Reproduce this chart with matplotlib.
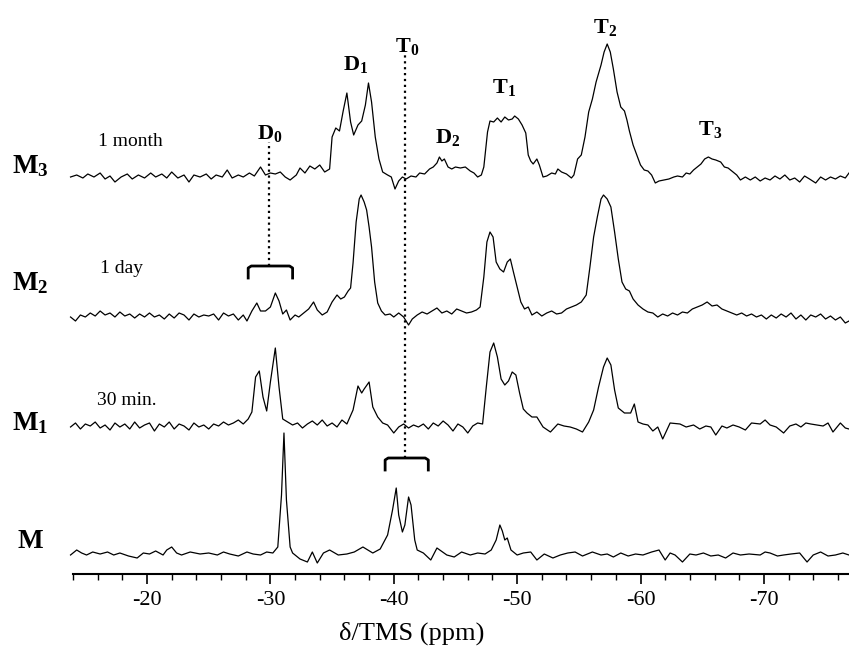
import numpy as np
import matplotlib
matplotlib.use('Agg')
import matplotlib.pyplot as plt

plt.rcParams['font.family'] = 'Liberation Serif'
plt.rcParams['mathtext.fontset'] = 'custom'
plt.rcParams['mathtext.rm'] = 'Liberation Serif'
plt.rcParams['mathtext.bf'] = 'Liberation Serif:bold'
plt.rcParams['mathtext.it'] = 'Liberation Serif:italic'
plt.rcParams['axes.unicode_minus'] = False

# traced spectra: chemical shift (ppm) and intensity above each baseline
m3_ppm = [-13.8, -14.3, -14.8, -15.2, -15.7, -16.2, -16.6, -17.0, -17.4, -17.9, -18.4, -18.8, -19.3, -19.8,
          -20.3, -20.7, -21.2, -21.6, -22.0, -22.5, -23.0, -23.4, -23.8, -24.3, -24.8, -25.2, -25.6, -26.1,
          -26.5, -26.9, -27.4, -27.8, -28.3, -28.7, -29.2, -29.6, -30.0, -30.4, -30.8, -31.2, -31.6, -32.1,
          -32.4, -32.8, -33.2, -33.6, -34.0, -34.4, -34.8, -35.0, -35.3, -35.6, -35.9, -36.2, -36.5, -36.75,
          -37.1, -37.4, -37.7, -37.95, -38.2, -38.5, -38.8, -39.1, -39.5, -39.8, -40.1, -40.4, -40.7, -41.0,
          -41.4, -41.8, -42.1, -42.5, -42.9, -43.2, -43.5, -43.7, -43.9, -44.1, -44.4, -44.7, -45.0, -45.4,
          -45.8, -46.2, -46.5, -46.8, -47.1, -47.3, -47.6, -47.8, -48.1, -48.4, -48.7, -49.0, -49.3, -49.6,
          -49.8, -50.1, -50.4, -50.7, -50.9, -51.1, -51.3, -51.6, -51.8, -52.1, -52.4, -52.8, -53.1, -53.3,
          -53.6, -54.0, -54.4, -54.6, -54.9, -55.2, -55.5, -55.8, -56.1, -56.4, -56.8, -57.05, -57.3, -57.55,
          -57.8, -58.1, -58.4, -58.7, -58.9, -59.1, -59.4, -59.7, -60.0, -60.3, -60.6, -60.9, -61.2, -61.5,
          -61.9, -62.3, -62.7, -63.0, -63.4, -63.7, -64.0, -64.3, -64.6, -64.9, -65.2, -65.5, -65.8, -66.1,
          -66.5, -66.8, -67.1, -67.5, -67.8, -68.1, -68.5, -68.9, -69.3, -69.7, -70.1, -70.5, -70.9, -71.3,
          -71.7, -72.1, -72.5, -72.9, -73.3, -73.7, -74.2, -74.6, -75.0, -75.4, -75.8, -76.2, -76.6, -76.9]
m3_int = [0, 2, -1, 3, 0, 4, -2, 1, -5, 0, 3, -2, 2, -1,
          4, 0, 3, -1, 5, -1, 2, -5, 2, 0, 3, -2, 2, 0,
          7, -1, 2, 0, 4, 1, 10, 2, 4, 3, 5, 0, -3, 2,
          9, 4, 11, 8, 12, 5, 8, 40, 49, 46, 66, 84, 55, 42,
          52, 56, 72, 94, 75, 40, 18, 5, 2, 0, -12, -4, 0, -2,
          1, 0, 4, 3, 8, 10, 14, 20, 16, 18, 10, 8, 10, 9,
          10, 6, 4, 0, 2, 10, 45, 56, 55, 59, 55, 60, 57, 58,
          61, 58, 52, 44, 22, 16, 13, 18, 12, 0, 1, 4, 3, 8,
          5, 3, -1, 2, 18, 22, 40, 65, 78, 95, 112, 125, 133, 125,
          108, 85, 70, 66, 57, 46, 32, 22, 12, 7, 6, 2, -6, -4,
          -3, -2, 0, 1, 0, 4, 3, 7, 10, 13, 18, 20, 18, 17,
          15, 10, 9, 5, 2, -3, 0, -3, 0, -4, -1, -3, 1, -2,
          2, -3, -1, -5, 1, -2, -6, 0, -3, 0, -2, 1, -1, 4]

m2_ppm = [-13.8, -14.2, -14.6, -15.0, -15.4, -15.8, -16.2, -16.6, -17.0, -17.4, -17.8, -18.2, -18.6, -19.0,
          -19.4, -19.8, -20.2, -20.6, -21.0, -21.4, -21.8, -22.2, -22.6, -23.0, -23.4, -23.8, -24.2, -24.6,
          -25.0, -25.4, -25.8, -26.2, -26.6, -27.0, -27.4, -27.8, -28.1, -28.5, -28.9, -29.2, -29.6, -30.0,
          -30.4, -30.7, -31.0, -31.3, -31.6, -32.0, -32.3, -32.7, -33.1, -33.5, -33.8, -34.2, -34.6, -35.0,
          -35.4, -35.7, -36.0, -36.3, -36.5, -36.7, -36.95, -37.2, -37.35, -37.6, -37.8, -38.0, -38.2, -38.45,
          -38.7, -39.0, -39.3, -39.7, -40.0, -40.4, -40.8, -41.2, -41.5, -41.9, -42.3, -42.7, -43.1, -43.5,
          -43.9, -44.3, -44.7, -45.1, -45.5, -45.9, -46.3, -46.7, -47.0, -47.3, -47.55, -47.8, -48.05, -48.3,
          -48.6, -48.9, -49.2, -49.45, -49.7, -50.0, -50.3, -50.6, -50.9, -51.2, -51.6, -52.0, -52.4, -52.8,
          -53.2, -53.6, -54.0, -54.4, -54.8, -55.2, -55.6, -55.9, -56.2, -56.5, -56.8, -57.0, -57.3, -57.6,
          -57.9, -58.2, -58.5, -58.8, -59.1, -59.4, -59.8, -60.2, -60.6, -61.0, -61.4, -61.8, -62.2, -62.6,
          -63.0, -63.4, -63.8, -64.2, -64.6, -65.0, -65.4, -65.8, -66.2, -66.6, -67.0, -67.4, -67.8, -68.2,
          -68.6, -69.0, -69.4, -69.8, -70.2, -70.6, -71.0, -71.4, -71.8, -72.2, -72.6, -73.0, -73.4, -73.8,
          -74.2, -74.6, -75.0, -75.4, -75.8, -76.2, -76.6, -76.9]
m2_int = [0, -4, 2, 0, 4, 1, 6, 2, 4, 0, 5, 1, 3, -1,
          3, 0, 4, 0, 2, -2, 3, -1, 4, 2, -3, 3, 0, 2,
          1, 3, -3, 4, 1, 3, -3, 2, -4, 6, 14, 6, 6, 10,
          24, 16, 3, 7, -3, 2, 0, 4, 8, 15, 7, 2, 5, 15,
          22, 18, 20, 26, 29, 54, 95, 118, 122, 115, 107, 90, 70, 35,
          14, 6, 2, 3, 0, 4, 0, -8, -2, 2, 5, 3, 6, 9,
          4, 6, 3, 8, 6, 4, 5, 7, 10, 40, 75, 85, 80, 55,
          48, 45, 55, 58, 45, 30, 15, 8, 10, 2, 5, 1, 4, 6,
          3, 4, 8, 10, 12, 15, 22, 50, 80, 100, 118, 122, 118, 110,
          85, 58, 35, 28, 26, 18, 12, 8, 5, 4, 0, 3, 1, 4,
          2, 5, 4, 8, 10, 12, 15, 11, 12, 8, 6, 4, 2, 4,
          1, 3, 0, 2, -2, 2, -1, 3, 0, 4, -2, 2, -3, 2,
          0, 3, -2, 1, -3, 0, -6, -4]

m1_ppm = [-13.8, -14.2, -14.6, -15.0, -15.4, -15.8, -16.2, -16.6, -17.0, -17.4, -17.8, -18.2, -18.6, -19.0,
          -19.4, -19.8, -20.2, -20.6, -21.0, -21.4, -21.8, -22.2, -22.6, -23.0, -23.4, -23.8, -24.2, -24.6,
          -25.0, -25.4, -25.8, -26.2, -26.6, -27.0, -27.4, -27.8, -28.2, -28.5, -28.8, -29.1, -29.4, -29.7,
          -30.0, -30.4, -30.7, -31.0, -31.4, -31.8, -32.2, -32.6, -33.0, -33.4, -33.8, -34.2, -34.6, -35.0,
          -35.4, -35.8, -36.2, -36.7, -37.1, -37.4, -37.6, -38.0, -38.3, -38.7, -39.1, -39.5, -40.0, -40.4,
          -40.8, -41.2, -41.6, -42.0, -42.4, -42.8, -43.2, -43.6, -44.0, -44.4, -44.8, -45.2, -45.6, -46.0,
          -46.4, -46.8, -47.2, -47.5, -47.8, -48.1, -48.4, -48.7, -49.0, -49.3, -49.6, -49.9, -50.2, -50.5,
          -50.8, -51.2, -51.6, -52.1, -52.7, -53.3, -53.8, -54.3, -54.8, -55.3, -55.8, -56.2, -56.6, -57.0,
          -57.3, -57.6, -57.9, -58.2, -58.7, -59.2, -59.5, -59.8, -60.2, -60.6, -61.0, -61.4, -61.8, -62.4,
          -63.2, -63.7, -64.3, -64.8, -65.3, -65.7, -66.1, -66.6, -67.0, -67.5, -68.0, -68.5, -69.0, -69.7,
          -70.1, -70.5, -71.0, -71.6, -72.1, -72.6, -73.0, -73.4, -73.8, -74.3, -74.8, -75.2, -75.6, -76.2,
          -76.6, -76.9]
m1_int = [0, 4, -2, 3, 1, 5, -1, 2, -3, 4, 0, 3, -2, 5,
          -1, 2, 4, -4, 3, 0, 5, -2, 3, 1, -3, 4, 0, 2,
          -2, 3, 1, 5, 2, 4, 7, 3, 8, 15, 50, 56, 30, 16,
          45, 79, 40, 8, 5, 2, 4, -1, 3, 6, 2, 7, 1, 4,
          0, 7, 3, 17, 41, 34, 38, 45, 20, 10, 4, 2, -6, 0,
          3, -1, 2, 0, 3, -2, 4, 1, 6, 2, -4, 3, 0, -6,
          1, 4, 3, 40, 75, 84, 70, 48, 42, 46, 55, 52, 34, 18,
          14, 10, 10, 0, -5, 3, 1, 0, -2, -5, 5, 17, 40, 60,
          69, 62, 37, 19, 14, 14, 23, 5, 3, 2, -4, 0, -12, 4,
          3, 0, 2, -2, 1, 0, -8, 1, -1, 2, 0, -3, 4, 3,
          7, 2, 0, -6, 1, 3, 0, 4, 3, 2, 1, 4, -5, 4,
          -1, -2]

m_ppm = [-13.8, -14.3, -14.7, -15.1, -15.6, -16.2, -16.8, -17.3, -17.8, -18.5, -19.2, -19.7, -20.2, -20.7,
         -21.3, -21.6, -22.0, -22.4, -22.8, -23.5, -24.3, -25.0, -25.7, -26.2, -26.7, -27.4, -28.1, -28.6,
         -29.2, -29.7, -30.2, -30.6, -30.9, -31.1, -31.3, -31.6, -31.8, -32.4, -33.0, -33.4, -33.8, -34.3,
         -34.8, -35.5, -36.2, -36.8, -37.5, -38.3, -38.9, -39.5, -39.9, -40.2, -40.4, -40.7, -40.9, -41.2,
         -41.4, -41.7, -41.9, -42.4, -43.0, -43.5, -44.3, -44.9, -45.5, -46.2, -46.8, -47.4, -47.9, -48.3,
         -48.6, -48.8, -49.0, -49.2, -49.5, -50.0, -50.5, -51.1, -51.6, -52.2, -52.9, -53.5, -54.1, -54.7,
         -55.3, -56.1, -56.8, -57.3, -57.8, -58.4, -59.0, -59.6, -60.2, -60.9, -61.5, -62.0, -62.4, -62.8,
         -63.4, -64.0, -64.5, -65.1, -65.7, -66.3, -66.9, -67.5, -68.1, -68.8, -69.7, -70.1, -70.5, -71.1,
         -71.6, -72.2, -72.9, -73.5, -74.0, -74.6, -75.2, -75.8, -76.4, -76.9]
m_int = [0, 5, 2, 0, 3, 1, 3, 0, 2, -1, -3, 2, 1, 4,
         0, 5, 8, 2, 0, 3, 1, 2, 0, 3, 1, -1, 3, 1,
         0, 3, 2, 8, 60, 122, 55, 8, 2, -4, -7, 3, -8, 2,
         5, 0, 1, 3, 8, 2, 6, 20, 45, 67, 40, 23, 30, 58,
         50, 15, 5, 2, -5, 7, 0, -2, 3, 0, 2, 1, 5, 15,
         30, 24, 15, 17, 5, 0, 2, 3, -5, 1, -3, 0, 2, 3,
         -1, 3, 0, 1, -2, 2, -1, 1, 0, 3, 5, -5, 2, 0,
         -7, 1, 0, 2, -1, 0, -3, 2, 0, 1, 0, 3, 2, -1,
         0, 1, 2, -7, 0, 3, -1, 0, 2, 0]

fig = plt.figure(figsize=(8.49, 6.56), dpi=100)
ax = fig.add_axes([73 / 849, 82 / 656, 776 / 849, 574 / 656])
ax.set_xlim(-14, -76.9)
ax.set_ylim(0, 574)

for ppm, inten, base in [(m3_ppm, m3_int, 397), (m2_ppm, m2_int, 257),
                         (m1_ppm, m1_int, 147), (m_ppm, m_int, 19)]:
    ax.plot(ppm, np.array(inten) + base, color='k', lw=0.9, clip_on=False)

# D0 and T0 guide lines with brackets
ax.plot([-29.9, -29.9], [308, 432], color='k', ls=':', lw=1.6)
ax.plot([-40.9, -40.9], [116, 521], color='k', ls=':', lw=1.6)
for x1, x2, yt, yb in [(-28.2, -31.8, 308, 296), (-39.3, -42.8, 116, 104)]:
    ax.plot([x1, x1, x1 - 0.25, x2 + 0.25, x2, x2], [yb, yt - 2, yt, yt, yt - 2, yb],
            color='k', lw=2)

for s in ['top', 'left', 'right']:
    ax.spines[s].set_visible(False)
ax.spines['bottom'].set_linewidth(1.5)
ax.set_yticks([])
ax.set_xticks(np.arange(-20, -71, -10))
ax.set_xticks(np.arange(-14, -77, -2), minor=True)
ax.tick_params(axis='x', which='major', length=7, width=1.2, labelsize=16, pad=5)
ax.tick_params(axis='x', which='minor', length=4.5, width=1)


def px(x, y):
    return x / 849, 1 - y / 656


for label, x, y in [(r'$\mathbf{M_3}$', 12, 173), (r'$\mathbf{M_2}$', 12, 290),
                    (r'$\mathbf{M_1}$', 12, 430), (r'$\mathbf{M}$', 17, 548)]:
    fig.text(*px(x, y), label, fontsize=19.5, va='baseline', ha='left')

for label, x, y in [('1 month', 98, 146), ('1 day', 100, 273), ('30 min.', 97, 405)]:
    fig.text(*px(x, y), label, fontsize=14, va='baseline', ha='left')

for label, x, y in [(r'$\mathbf{D_0}$', 257, 139), (r'$\mathbf{D_1}$', 343, 70),
                    (r'$\mathbf{T_0}$', 395, 52), (r'$\mathbf{D_2}$', 435, 143),
                    (r'$\mathbf{T_1}$', 492, 93), (r'$\mathbf{T_2}$', 593, 33),
                    (r'$\mathbf{T_3}$', 698, 135)]:
    fig.text(*px(x, y), label, fontsize=16, va='baseline', ha='left')

fig.text(*px(412, 633), 'δ/TMS (ppm)', fontsize=19, ha='center', va='center')

fig.savefig('out.png', dpi=100)
